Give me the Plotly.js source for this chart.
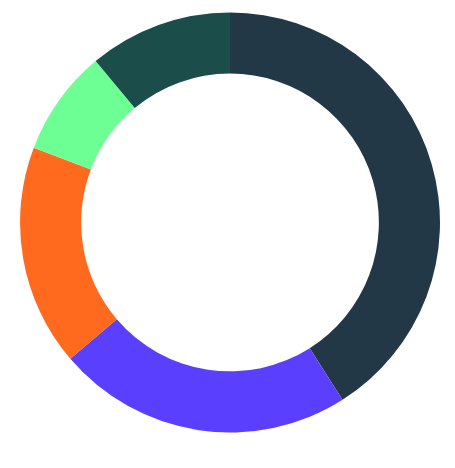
<!DOCTYPE html>
<html>
<head>
<meta charset="utf-8">
<script src="https://cdn.plot.ly/plotly-3.0.1.min.js"></script>
<style>html,body{margin:0;padding:0;background:#fff;}#chart{width:455px;height:468px;}</style>
</head>
<body>
<div id="chart"></div>
<script>
const labels = ["A", "B", "C", "D", "E"];
const values = [41, 22.75, 17.05, 8.15, 11.05];
const colors = ["#233846", "#5B3FFF", "#FF6A1F", "#6EFF94", "#1B4E4A"];

Plotly.newPlot("chart", [{
  type: "pie",
  labels: labels,
  values: values,
  hole: 0.709,
  sort: false,
  direction: "clockwise",
  rotation: 0,
  textinfo: "none",
  hoverinfo: "none",
  marker: {colors: colors, line: {width: 0}},
  domain: {x: [0.044, 0.967], y: [0.0759, 0.9733]}
}], {
  width: 455,
  height: 468,
  showlegend: false,
  margin: {l: 0, r: 0, t: 0, b: 0},
  paper_bgcolor: "#fff",
  plot_bgcolor: "#fff"
}, {displayModeBar: false, staticPlot: true});
</script>
</body>
</html>
